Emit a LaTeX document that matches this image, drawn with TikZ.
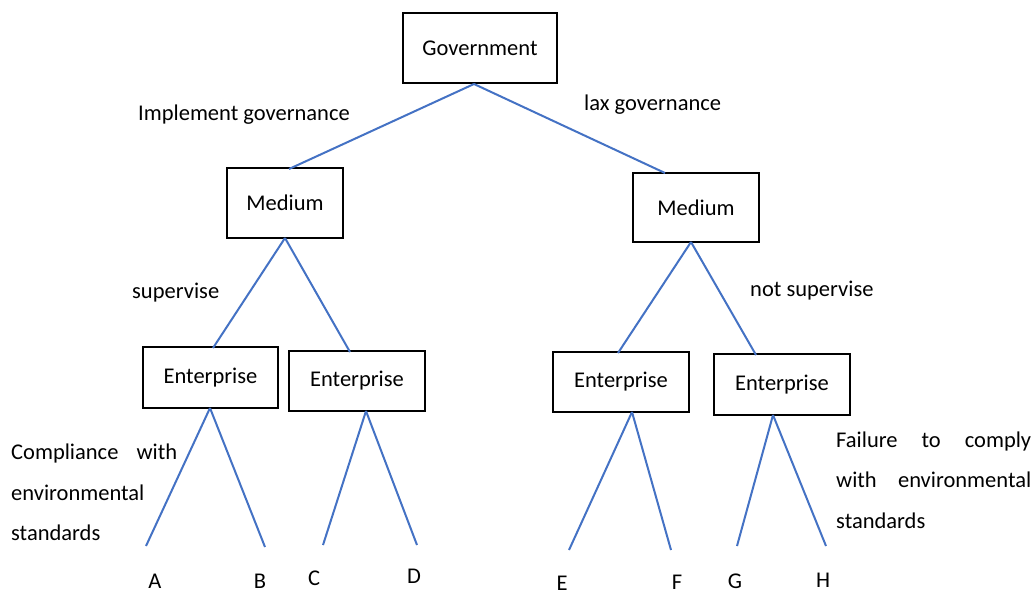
\documentclass[tikz,border=0pt]{standalone}
\usepackage{fontspec}
\setmainfont{Carlito}
\usetikzlibrary{calc}
\definecolor{edgeblue}{HTML}{4472C4}
\tikzset{
  every node/.style={font=\fontsize{22.5}{27}\selectfont, inner sep=0pt},
  box/.style={draw=black, line width=2.4pt, fill=white, align=center},
  edge/.style={draw=edgeblue, line width=2pt},
  lbl/.style={anchor=base west},
  leaf/.style={anchor=base}
}
\begin{document}
\begin{tikzpicture}[x=1pt,y=-1pt]
\useasboundingbox (0,0) rectangle (1035,595);
% connector end points
\coordinate (govb) at (474,84);
\coordinate (m1t) at (289,169);
\coordinate (m2t) at (665,173);
\coordinate (m1b) at (285,238);
\coordinate (m2b) at (691,242);
\coordinate (e1t) at (213,348);
\coordinate (e2t) at (350,352);
\coordinate (e3t) at (618,353);
\coordinate (e4t) at (756,355);
\coordinate (e1b) at (210,408);
\coordinate (e2b) at (366,411);
\coordinate (e3b) at (632,412);
\coordinate (e4b) at (773,415);
\coordinate (la) at (146,546);
\coordinate (lb) at (265,547);
\coordinate (lc) at (323,545);
\coordinate (ld) at (417,545);
\coordinate (le) at (569,550);
\coordinate (lf) at (671,550);
\coordinate (lg) at (737,546);
\coordinate (lh) at (826,546);

\node[box, minimum width=154pt, minimum height=70pt] (gov) at (480,48) {Government};
\node[box, minimum width=116pt, minimum height=70pt] (med1) at (285,203) {Medium};
\node[box, minimum width=126pt, minimum height=69pt] (med2) at (696,207.5) {Medium};
\node[box, minimum width=135pt, minimum height=61pt] (ent1) at (210.5,377.5) {Enterprise};
\node[box, minimum width=136pt, minimum height=60pt] (ent2) at (357,381) {Enterprise};
\node[box, minimum width=136pt, minimum height=60pt] (ent3) at (621,382) {Enterprise};
\node[box, minimum width=136pt, minimum height=61pt] (ent4) at (782,384.5) {Enterprise};

\draw[edge] (govb) -- (m1t);
\draw[edge] (govb) -- (m2t);
\draw[edge] (m1b) -- (e1t);
\draw[edge] (m1b) -- (e2t);
\draw[edge] (m2b) -- (e3t);
\draw[edge] (m2b) -- (e4t);
\draw[edge] (e1b) -- (la);
\draw[edge] (e1b) -- (lb);
\draw[edge] (e2b) -- (lc);
\draw[edge] (e2b) -- (ld);
\draw[edge] (e3b) -- (le);
\draw[edge] (e3b) -- (lf);
\draw[edge] (e4b) -- (lg);
\draw[edge] (e4b) -- (lh);

% edge labels
\node[lbl] (impl) at (138,120) {Implement governance};
\node[lbl] (lax) at (584,110) {lax governance};
\node[lbl] (sup) at (132,298) {supervise};
\node[lbl] (nsup) at (750,296) {not supervise};
\node[lbl] (comp1) at (11,459) {\makebox[166pt][s]{Compliance with}};
\node[lbl] (comp2) at (11,500) {environmental};
\node[lbl] (comp3) at (11,540) {standards};
\node[lbl] (fail1) at (836,447) {\makebox[195pt][s]{Failure to comply}};
\node[lbl] (fail2) at (836,487) {\makebox[195pt][s]{with environmental}};
\node[lbl] (fail3) at (836,528) {standards};

% leaf labels
\node[leaf] (A) at (155,588) {A};
\node[leaf] (B) at (260,588) {B};
\node[leaf] (C) at (314,585) {C};
\node[leaf] (D) at (414,583) {D};
\node[leaf] (E) at (562,590) {E};
\node[leaf] (F) at (677,589) {F};
\node[leaf] (G) at (735,588) {G};
\node[leaf] (H) at (823,587) {H};
\end{tikzpicture}
\end{document}
